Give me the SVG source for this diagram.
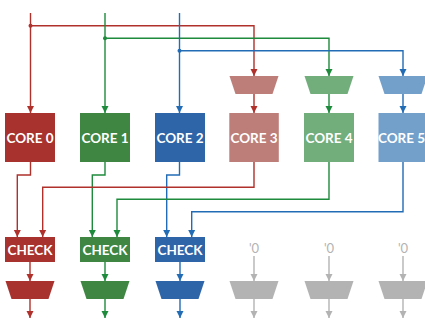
<svg xmlns="http://www.w3.org/2000/svg" width="425" height="321" viewBox="0 0 425 321">
<defs>
<marker id="ar" markerUnits="userSpaceOnUse" markerWidth="7" markerHeight="8" refX="7" refY="4" orient="auto"><path d="M0,0.5 L7,4 L0,7.5 z" fill="#B0302C"/></marker>
<marker id="ag" markerUnits="userSpaceOnUse" markerWidth="7" markerHeight="8" refX="7" refY="4" orient="auto"><path d="M0,0.5 L7,4 L0,7.5 z" fill="#1E8A3C"/></marker>
<marker id="ab" markerUnits="userSpaceOnUse" markerWidth="7" markerHeight="8" refX="7" refY="4" orient="auto"><path d="M0,0.5 L7,4 L0,7.5 z" fill="#226CB5"/></marker>
<marker id="ak" markerUnits="userSpaceOnUse" markerWidth="7" markerHeight="8" refX="7" refY="4" orient="auto"><path d="M0,0.5 L7,4 L0,7.5 z" fill="#B3B3B3"/></marker>
</defs>
<style>
.l{fill:none;stroke-width:1.4}
.r{stroke:#B0302C;marker-end:url(#ar)}
.g{stroke:#1E8A3C;marker-end:url(#ag)}
.b{stroke:#226CB5;marker-end:url(#ab)}
.k{stroke:#B3B3B3;marker-end:url(#ak)}
.t{font-family:Lato,"Open Sans",sans-serif;font-weight:bold;font-size:13.5px;fill:#fff;text-anchor:middle}
.z{font-family:Lato,"Open Sans",sans-serif;font-size:13px;fill:#B3B3B3;text-anchor:middle}
</style>
<g id="connectors">
<path class="l r" d="M30.5,13 V113"/>
<path class="l r" d="M30.5,25.7 H254 V76"/>
<circle cx="30.5" cy="25.7" r="2" fill="#B0302C"/>
<path class="l g" d="M105,13 V113"/>
<path class="l g" d="M105,38.3 H329 V76"/>
<circle cx="105" cy="38.3" r="2" fill="#1E8A3C"/>
<path class="l b" d="M179.5,13 V113"/>
<path class="l b" d="M179.5,50.7 H403 V76"/>
<circle cx="179.5" cy="50.7" r="2" fill="#226CB5"/>
<path class="l r" d="M254,94 V113"/>
<path class="l g" d="M329,94 V113"/>
<path class="l b" d="M403,94 V113"/>
<path class="l r" d="M30.5,162 V175 H17.3 V237"/>
<path class="l g" d="M105,162 V175 H92.3 V237"/>
<path class="l b" d="M179.5,162 V175 H166.7 V237"/>
<path class="l r" d="M254,162 V187.3 H42.7 V237"/>
<path class="l g" d="M329,162 V199.3 H117 V237"/>
<path class="l b" d="M403,162 V211.7 H191.7 V237"/>
<path class="l r" d="M30,262 V281"/>
<path class="l g" d="M105,262 V281"/>
<path class="l b" d="M180,262 V281"/>
<path class="l r" d="M30,299 V318"/>
<path class="l g" d="M105,299 V318"/>
<path class="l b" d="M180,299 V318"/>
<path class="l k" d="M254,256 V281"/>
<path class="l k" d="M329,256 V281"/>
<path class="l k" d="M403,256 V281"/>
<path class="l k" d="M254,299 V318"/>
<path class="l k" d="M329,299 V318"/>
<path class="l k" d="M403,299 V318"/>
</g>
<g id="mux3"><path d="M229.5,76 H278.5 L272.5,94 H235.5 z" fill="#BD7E79"/></g>
<g id="mux4"><path d="M304.5,76 H353.5 L347.5,94 H310.5 z" fill="#72AD7C"/></g>
<g id="mux5"><path d="M378.5,76 H427.5 L421.5,94 H384.5 z" fill="#72A0CB"/></g>
<g id="core0"><rect x="5" y="113" width="50" height="49" fill="#A8322E"/><text class="t" x="30" y="142.5">CORE 0</text></g>
<g id="core1"><rect x="80" y="113" width="50" height="49" fill="#3F8642"/><text class="t" x="105" y="142.5">CORE 1</text></g>
<g id="core2"><rect x="155" y="113" width="50" height="49" fill="#2E65A9"/><text class="t" x="180" y="142.5">CORE 2</text></g>
<g id="core3"><rect x="229.3" y="113" width="49.5" height="49" fill="#BD7E79"/><text class="t" x="254" y="142.5">CORE 3</text></g>
<g id="core4"><rect x="304" y="113" width="50" height="49" fill="#72AD7C"/><text class="t" x="329" y="142.5">CORE 4</text></g>
<g id="core5"><rect x="378.5" y="113" width="50" height="49" fill="#72A0CB"/><text class="t" x="401.5" y="142.5">CORE 5</text></g>
<g id="check0"><rect x="5" y="237" width="50" height="25" fill="#A8322E"/><text class="t" x="30" y="254.5">CHECK</text></g>
<g id="check1"><rect x="80" y="237" width="50" height="25" fill="#3F8642"/><text class="t" x="105" y="254.5">CHECK</text></g>
<g id="check2"><rect x="155" y="237" width="50" height="25" fill="#2E65A9"/><text class="t" x="180" y="254.5">CHECK</text></g>
<g id="zero3"><text class="z" x="254" y="253">'0</text></g>
<g id="zero4"><text class="z" x="329" y="253">'0</text></g>
<g id="zero5"><text class="z" x="403" y="253">'0</text></g>
<g id="omux0"><path d="M5.5,281 H54.5 L48.5,299 H11.5 z" fill="#A8322E"/></g>
<g id="omux1"><path d="M80.5,281 H129.5 L123.5,299 H86.5 z" fill="#3F8642"/></g>
<g id="omux2"><path d="M155.5,281 H204.5 L198.5,299 H161.5 z" fill="#2E65A9"/></g>
<g id="omux3"><path d="M229.5,281 H278.5 L272.5,299 H235.5 z" fill="#B3B3B3"/></g>
<g id="omux4"><path d="M304.5,281 H353.5 L347.5,299 H310.5 z" fill="#B3B3B3"/></g>
<g id="omux5"><path d="M378.5,281 H427.5 L421.5,299 H384.5 z" fill="#B3B3B3"/></g>
</svg>
